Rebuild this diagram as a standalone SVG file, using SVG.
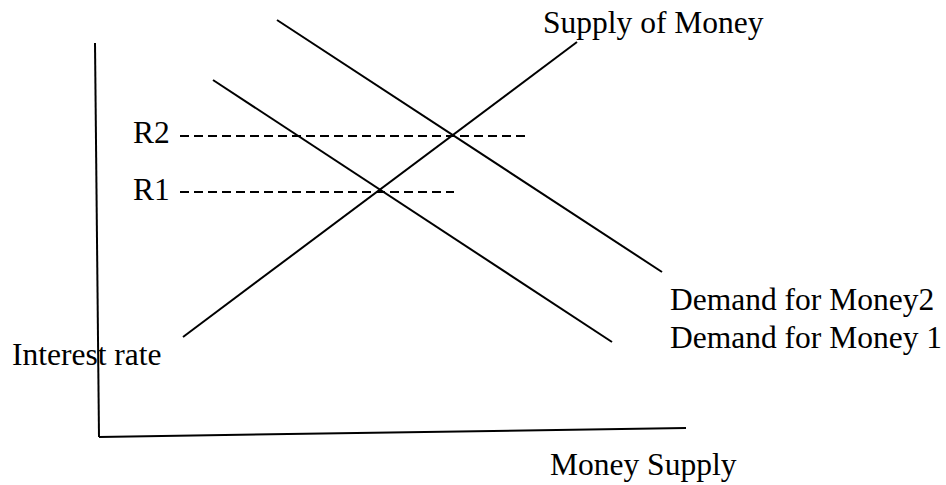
<svg xmlns="http://www.w3.org/2000/svg" width="946" height="485" viewBox="0 0 946 485">
<style>
.l{stroke:#000;stroke-width:2;fill:none}
.d{stroke:#000;stroke-width:2;stroke-dasharray:9,5;fill:none}
text{font-family:"Liberation Serif","Times New Roman",serif;font-size:31.5px;fill:#000}
</style>
<rect width="946" height="485" fill="#fff"/>
<g id="axes">
<line class="l" x1="95" y1="43" x2="99" y2="437"/>
<line class="l" x1="99" y1="437" x2="686" y2="428"/>
</g>
<g id="connectors">
<line class="l" x1="183" y1="337" x2="577" y2="42"/>
<line class="l" x1="277" y1="20" x2="662" y2="272"/>
<line class="l" x1="213" y1="80" x2="612" y2="342"/>
<line class="d" x1="180" y1="136" x2="528" y2="136"/>
<line class="d" x1="180" y1="192" x2="454" y2="192"/>
</g>
<g id="labels">
<text x="543" y="33">Supply of Money</text>
<text x="133" y="143">R2</text>
<text x="133" y="200">R1</text>
<text x="670" y="310">Demand for Money2</text>
<text x="670" y="348">Demand for Money 1</text>
<text x="12" y="365">Interest rate</text>
<text x="550" y="475">Money Supply</text>
</g>
</svg>
